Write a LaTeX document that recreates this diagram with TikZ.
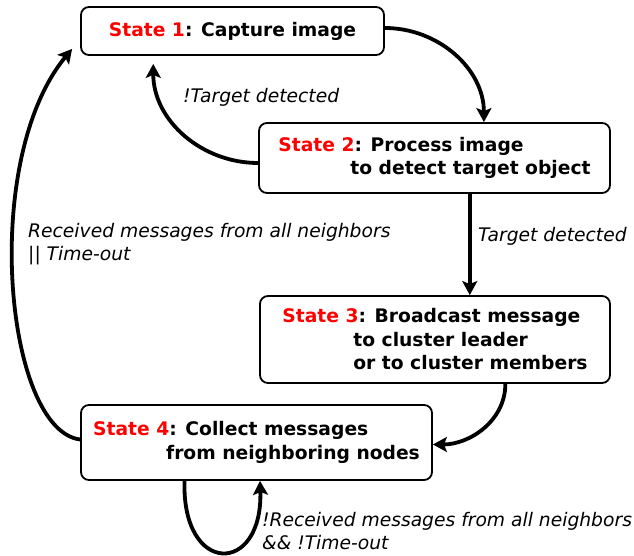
\documentclass[tikz,border=0pt]{standalone}
\usepackage{fontspec}
\setmainfont{DejaVu Sans}
\usetikzlibrary{arrows.meta,calc}
\begin{document}
\begin{tikzpicture}[x=1pt,y=-1pt,
  statebox/.style={draw, rounded corners=8pt, line width=1.8pt, inner sep=0pt,
    align=left, font=\fontsize{18.7}{23.5}\selectfont\bfseries},
  conn/.style={line width=3.8pt, -{Stealth[length=14pt,width=15pt,inset=3pt]}},
  lbl/.style={anchor=west, inner sep=0pt, align=left,
    font=\fontsize{18.7}{22.5}\selectfont\itshape}]
\useasboundingbox (0,0) rectangle (634,556);
\node[statebox, minimum width=303pt, minimum height=48pt] (b1) at (232.5,31)
  {\textcolor{red}{State 1}: Capture image};
\node[statebox, minimum width=351pt, minimum height=70pt] (b2) at (434.5,158)
  {\textcolor{red}{State 2}: Process image\\\hspace*{72pt}to detect target object};
\node[statebox, minimum width=350pt, minimum height=87pt] (b3) at (435,339.5)
  {\textcolor{red}{State 3}: Broadcast message\\\hspace*{71pt}to cluster leader\\\hspace*{71pt}or to cluster members};
\node[statebox, minimum width=351pt, minimum height=75pt] (b4) at (256.5,442.5)
  {\textcolor{red}{State 4}: Collect messages\\\hspace*{73pt}from neighboring nodes};
% connector points
\coordinate (p12) at ($(b2.north west)!0.64!(b2.north east)$);
\coordinate (p21) at ($(b1.south west)!0.24!(b1.south east)+(0,8)$);
\coordinate (p23) at ($(b2.south west)!0.60!(b2.south east)$);
\coordinate (p34) at ($(b3.south west)!0.70!(b3.south east)$);
\coordinate (p41) at ($(b1.south west)+(-8,-7)$);
\coordinate (l1) at ($(b4.south west)!0.296!(b4.south east)$);
\coordinate (l2) at ($(b4.south west)!0.51!(b4.south east)$);
\draw[conn] ([yshift=3pt]b1.east) to[out=0,in=90] (p12);
\draw[conn] ([yshift=-5pt]b2.west) to[out=180,in=-90] (p21);
\draw[conn] (p23) -- (p23 |- b3.north);
\draw[conn] (p34) to[out=-90,in=0] ([yshift=-2pt]b4.east);
\draw[conn] ([yshift=3pt]b4.west) .. controls (5,430) and (-20,160) .. (p41);
\draw[conn] (l1) .. controls ($(l1)+(-3,95)$) and ($(l2)+(3,95)$) .. (l2);
% labels
\node[lbl] (t1) at (183,97) {!Target detected};
\node[lbl] (t2) at (478,236) {Target detected};
\node[lbl] (t3) at (28,244) {Received messages from all neighbors\\|| Time-out};
\node[lbl] (t4) at (262,531) {!Received messages from all neighbors\\\&\& !Time-out};
\end{tikzpicture}
\end{document}
